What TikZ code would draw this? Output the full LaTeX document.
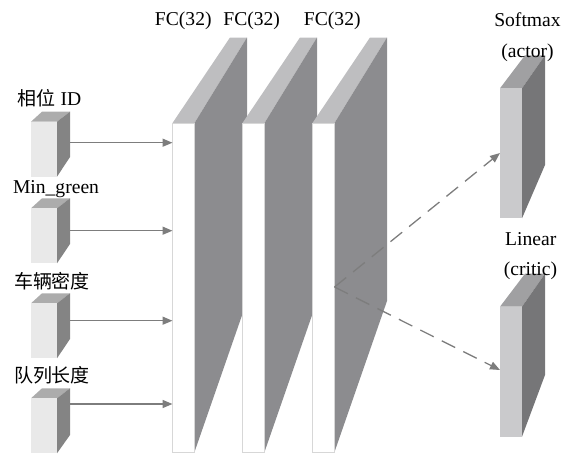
\documentclass[tikz,border=0pt]{standalone}
\usepackage{fontspec}
\setmainfont{Liberation Serif}
\newfontfamily\cjk{Noto Sans CJK SC}
\usetikzlibrary{arrows.meta}
\definecolor{fctopc}{RGB}{190,190,192}
\definecolor{fcsidec}{RGB}{140,140,143}
\definecolor{fcedge}{RGB}{215,215,215}
\definecolor{intopc}{RGB}{172,172,172}
\definecolor{insidec}{RGB}{132,132,132}
\definecolor{infrontc}{RGB}{233,233,233}
\definecolor{outfrontc}{RGB}{202,202,204}
\definecolor{outtopc}{RGB}{160,160,162}
\definecolor{outsidec}{RGB}{118,118,120}
\definecolor{arrc}{RGB}{125,125,125}
\begin{document}
\begin{tikzpicture}[x=1pt,y=-1pt,
  lbl/.style={inner sep=0pt, font=\fontsize{19.6}{22}\selectfont},
  cjklbl/.style={inner sep=0pt, font=\fontsize{19}{22}\selectfont\cjk},
  fcfront/.style={fill=white, draw=fcedge, line width=0.8pt},
  solidarr/.style={draw=arrc, line width=1.5pt, -{Triangle[length=10pt,width=8pt]}},
  dasharr/.style={draw=arrc, line width=1.3pt, dash pattern=on 15pt off 9pt, -{Triangle[length=10pt,width=8pt]}}
]
\useasboundingbox (0,0) rectangle (571,455);

% FC layers
\foreach \xl in {172.5,242.5,312.5} {
  \fill[fctopc] (\xl,123) -- (\xl+57.5,37.5) -- (\xl+74.5,37.5) -- (\xl+22,123) -- cycle;
  \fill[fcsidec] (\xl+22,123) -- (\xl+74.5,37.5) -- (\xl+74.5,301) -- (\xl+22,452) -- cycle;
  \draw[fcfront] (\xl,123) rectangle (\xl+22,452);
}

% input blocks
\foreach \yt/\yb in {121.7/157, 208.3/244, 303.3/339, 398.3/435} {
  \fill[intopc] (31,\yt) -- (42,\yt-10) -- (70,\yt-10) -- (57,\yt) -- cycle;
  \fill[insidec] (57,\yt) -- (70,\yt-10) -- (70,\yb) -- (57,\yt+55) -- cycle;
  \fill[infrontc] (31,\yt) rectangle (57,\yt+55);
}

% output blocks
\foreach \yt/\yb in {88.3/165, 306.7/375} {
  \fill[outtopc] (500,\yt) -- (525,\yt-33) -- (545,\yt-33) -- (522,\yt) -- cycle;
  \fill[outsidec] (522,\yt) -- (545,\yt-33) -- (545,\yb) -- (522,\yt+130) -- cycle;
  \fill[outfrontc] (500,\yt) rectangle (522,\yt+130);
}

% connector end points
\coordinate (in1) at (70,142.7);
\coordinate (in2) at (70,230.7);
\coordinate (in3) at (70,320.7);
\coordinate (in4) at (70,404);
\coordinate (fc1) at (172.5,142.7);
\coordinate (fc2) at (172.5,230.7);
\coordinate (fc3) at (172.5,320.7);
\coordinate (fc4) at (172.5,404);
\coordinate (split) at (334.5,287);
\coordinate (actor) at (500,153);
\coordinate (critic) at (500,370);

\draw[solidarr] (in1) -- (fc1);
\draw[solidarr] (in2) -- (fc2);
\draw[solidarr] (in3) -- (fc3);
\draw[solidarr] (in4) -- (fc4);
\draw[dasharr] (split) -- (actor);
\draw[dasharr] (split) -- (critic);

% labels
\node[lbl, anchor=base] (l1) at (183.3,25.5) {FC(32)};
\node[lbl, anchor=base] (l2) at (251.7,25.5) {FC(32)};
\node[lbl, anchor=base] (l3) at (332.3,25.5) {FC(32)};
\node[lbl, anchor=base] (sm) at (527.5,26.5) {Softmax};
\node[lbl, anchor=base] (ac) at (527.5,57) {(actor)};
\node[lbl, anchor=base] (li) at (530.8,245) {Linear};
\node[lbl, anchor=base] (cr) at (530.5,275.5) {(critic)};
\node[lbl, anchor=base] (t1) at (49.5,105.7) {{\cjk\fontsize{19}{22}\selectfont 相位} ID};
\node[lbl, anchor=base] (t2) at (56,193.3) {Min\_green};
\node[cjklbl] (t3) at (52,281) {车辆密度};
\node[cjklbl] (t4) at (52,375.7) {队列长度};
\end{tikzpicture}
\end{document}
